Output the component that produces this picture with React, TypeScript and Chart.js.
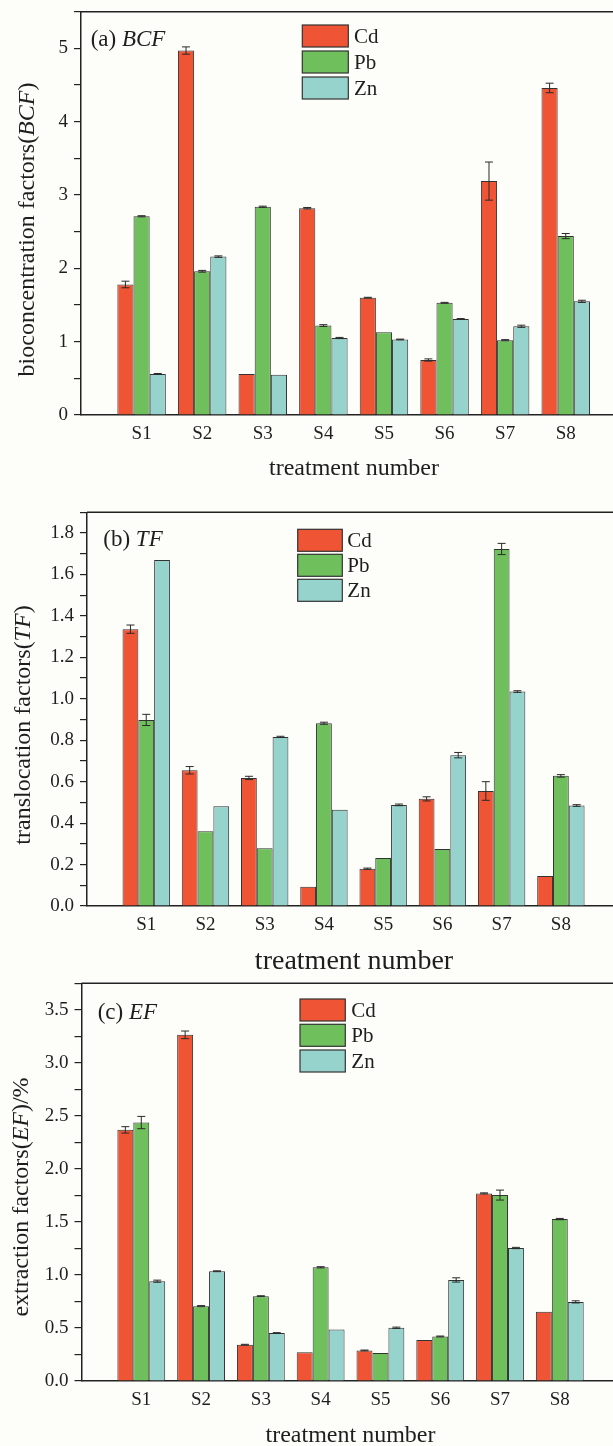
import React, { useEffect, useRef } from 'react';
import { Chart, registerables } from 'chart.js';

Chart.register(...registerables);

const categories = ['S1', 'S2', 'S3', 'S4', 'S5', 'S6', 'S7', 'S8'];
const seriesNames = ['Cd', 'Pb', 'Zn'];
const seriesColors = ['#ef5435', '#6fbf5d', '#96d3cd'];

// (a) BCF
const bcfCd = [1.78, 4.97, 0.56, 2.82, 1.6, 0.75, 3.19, 4.46];
const bcfPb = [2.71, 1.96, 2.84, 1.22, 1.13, 1.53, 1.02, 2.44];
const bcfZn = [0.56, 2.16, 0.55, 1.05, 1.03, 1.31, 1.21, 1.55];
const bcfCdErr = [0.045, 0.05, 0, 0.01, 0.005, 0.015, 0.26, 0.065];
const bcfPbErr = [0.008, 0.012, 0.008, 0.012, 0, 0.006, 0.008, 0.035];
const bcfZnErr = [0.006, 0.01, 0, 0.008, 0.005, 0.005, 0.015, 0.015];
const bcfTickLabels = ['0', '1', '2', '3', '4', '5'];

// (b) TF
const tfCd = [1.336, 0.655, 0.618, 0.093, 0.18, 0.517, 0.555, 0.145];
const tfPb = [0.898, 0.361, 0.279, 0.882, 0.232, 0.275, 1.723, 0.628];
const tfZn = [1.67, 0.481, 0.816, 0.465, 0.488, 0.728, 1.035, 0.485];
const tfCdErr = [0.02, 0.018, 0.008, 0, 0.003, 0.01, 0.045, 0];
const tfPbErr = [0.027, 0, 0, 0.005, 0, 0, 0.027, 0.006];
const tfZnErr = [0, 0, 0.003, 0, 0.004, 0.013, 0.004, 0.004];
const tfTickLabels = ['0.0', '0.2', '0.4', '0.6', '0.8', '1.0', '1.2', '1.4', '1.6', '1.8'];

// (c) EF
const efCd = [2.368, 3.264, 0.342, 0.27, 0.288, 0.386, 1.769, 0.652];
const efPb = [2.437, 0.706, 0.8, 1.072, 0.263, 0.42, 1.753, 1.527];
const efZn = [0.941, 1.035, 0.452, 0.486, 0.502, 0.953, 1.254, 0.746];
const efCdErr = [0.03, 0.036, 0.004, 0, 0.004, 0, 0.005, 0];
const efPbErr = [0.058, 0.005, 0.004, 0.006, 0, 0.004, 0.047, 0.006];
const efZnErr = [0.01, 0.004, 0.004, 0, 0.006, 0.02, 0.006, 0.01];
const efTickLabels = ['0.0', '0.5', '1.0', '1.5', '2.0', '2.5', '3.0', '3.5'];

const FONT = '"Liberation Serif", "Times New Roman", serif';
const INK = '#1e1e1e';

type Part = { t: string; i?: boolean };

const panels = [
  {
    top: 0, height: 485,
    area: { left: 81, top: 11.7, bottom: 415 },
    xMax: 8.78, yMax: 5.5, step: 0.5, tickLabels: bcfTickLabels,
    values: [bcfCd, bcfPb, bcfZn], errors: [bcfCdErr, bcfPbErr, bcfZnErr],
    label: [{ t: '(a) ' }, { t: 'BCF', i: true }] as Part[], labelPos: { x: 90.7, y: 40 }, labelSize: 23,
    yTitle: [{ t: 'bioconcentration factors(' }, { t: 'BCF', i: true }, { t: ')' }] as Part[], yTitlePos: { x: 28, y: 229.5 }, yTitleSize: 24,
    xTitlePos: { x: 354, y: 469 }, xTitleSize: 24,
    legend: { x: 302.3, w: 46, tops: [25, 51, 77], h: 22, textX: 354, size: 21 },
  },
  {
    top: 485, height: 490,
    area: { left: 87, top: 27.3, bottom: 421 },
    xMax: 8.88, yMax: 1.9, step: 0.1, tickLabels: tfTickLabels,
    values: [tfCd, tfPb, tfZn], errors: [tfCdErr, tfPbErr, tfZnErr],
    label: [{ t: '(b) ' }, { t: 'TF', i: true }] as Part[], labelPos: { x: 103.3, y: 55 }, labelSize: 23,
    yTitle: [{ t: 'translocation factors(' }, { t: 'TF', i: true }, { t: ')' }] as Part[], yTitlePos: { x: 24, y: 240 }, yTitleSize: 24,
    xTitlePos: { x: 354, y: 477 }, xTitleSize: 28,
    legend: { x: 297.7, w: 44.6, tops: [44.3, 69.3, 94.3], h: 22, textX: 347.3, size: 21 },
  },
  {
    top: 975, height: 471,
    area: { left: 81.5, top: 8.3, bottom: 406 },
    xMax: 8.89, yMax: 3.75, step: 0.25, tickLabels: efTickLabels,
    values: [efCd, efPb, efZn], errors: [efCdErr, efPbErr, efZnErr],
    label: [{ t: '(c) ' }, { t: 'EF', i: true }] as Part[], labelPos: { x: 97.7, y: 37.5 }, labelSize: 23,
    yTitle: [{ t: 'extraction factors(' }, { t: 'EF', i: true }, { t: ')/%' }] as Part[], yTitlePos: { x: 22, y: 222 }, yTitleSize: 24,
    xTitlePos: { x: 350.5, y: 461 }, xTitleSize: 24,
    legend: { x: 300, w: 45.3, tops: [24, 49.3, 75], h: 22, textX: 351.3, size: 21 },
  },
];

function drawMixed(ctx: CanvasRenderingContext2D, parts: Part[], x: number, y: number, size: number, align: 'left' | 'center') {
  const fontOf = (it?: boolean) => `${it ? 'italic ' : ''}${size}px ${FONT}`;
  let total = 0;
  const widths = parts.map((pt) => {
    ctx.font = fontOf(pt.i);
    const w = ctx.measureText(pt.t).width;
    total += w;
    return w;
  });
  let cx = align === 'center' ? x - total / 2 : x;
  ctx.textAlign = 'left';
  ctx.textBaseline = 'middle';
  ctx.fillStyle = INK;
  parts.forEach((pt, k) => {
    ctx.font = fontOf(pt.i);
    ctx.fillText(pt.t, cx, y);
    cx += widths[k];
  });
}

function Panel({ p }: { p: any }) {
  const ref = useRef<HTMLCanvasElement | null>(null);
  useEffect(() => {
    const decor = {
      id: 'decor',
      afterDatasetsDraw(chart: any) {
        const ctx = chart.ctx;
        const ys = chart.scales.y;
        ctx.save();
        ctx.strokeStyle = '#2a2a2a';
        ctx.lineWidth = 1;
        p.errors.forEach((errs: number[], di: number) => {
          const meta = chart.getDatasetMeta(di);
          meta.data.forEach((el: any, j: number) => {
            const e = errs[j];
            if (!e) return;
            const v = chart.data.datasets[di].data[j].y;
            const y1 = ys.getPixelForValue(v + e);
            const y2 = ys.getPixelForValue(v - e);
            const x = el.x;
            ctx.beginPath();
            ctx.moveTo(x, y1); ctx.lineTo(x, y2);
            ctx.moveTo(x - 4, y1); ctx.lineTo(x + 4, y1);
            ctx.moveTo(x - 4, y2); ctx.lineTo(x + 4, y2);
            ctx.stroke();
          });
        });
        ctx.restore();
      },
      afterDraw(chart: any) {
        const ctx = chart.ctx;
        const a = chart.chartArea;
        ctx.save();
        // top frame line
        ctx.strokeStyle = '#222';
        ctx.lineWidth = 1.5;
        ctx.beginPath();
        ctx.moveTo(a.left, a.top);
        ctx.lineTo(a.right, a.top);
        ctx.stroke();
        // legend
        const lg = p.legend;
        chart.data.datasets.forEach((ds: any, i: number) => {
          ctx.fillStyle = ds.backgroundColor;
          ctx.fillRect(lg.x, lg.tops[i], lg.w, lg.h);
          ctx.strokeStyle = '#333';
          ctx.lineWidth = 1.2;
          ctx.strokeRect(lg.x, lg.tops[i], lg.w, lg.h);
          ctx.fillStyle = INK;
          ctx.font = `${lg.size}px ${FONT}`;
          ctx.textAlign = 'left';
          ctx.textBaseline = 'middle';
          ctx.fillText(ds.label, lg.textX, lg.tops[i] + lg.h / 2 + 1);
        });
        // panel label
        drawMixed(ctx, p.label, p.labelPos.x, p.labelPos.y, p.labelSize, 'left');
        // x title
        drawMixed(ctx, [{ t: 'treatment number' }], p.xTitlePos.x, p.xTitlePos.y, p.xTitleSize, 'center');
        // y title
        ctx.save();
        ctx.translate(p.yTitlePos.x, p.yTitlePos.y);
        ctx.rotate(-Math.PI / 2);
        drawMixed(ctx, p.yTitle, 0, 0, p.yTitleSize, 'center');
        ctx.restore();
        ctx.restore();
      },
    };

    const H = p.height;
    const chart = new Chart(ref.current as HTMLCanvasElement, {
      type: 'bar',
      data: {
        datasets: seriesNames.map((name, di) => ({
          label: name,
          data: categories.map((_, j) => ({ x: j + 1, y: p.values[di][j] })),
          backgroundColor: seriesColors[di],
          borderColor: '#333',
          borderWidth: 1,
          categoryPercentage: 0.8,
          barPercentage: 1,
        })),
      },
      options: {
        animation: false,
        responsive: false,
        maintainAspectRatio: false,
        layout: { padding: { top: p.area.top, left: 0, right: 0, bottom: 0 } },
        plugins: { legend: { display: false }, tooltip: { enabled: false }, title: { display: false } },
        scales: {
          x: {
            type: 'linear',
            min: 0,
            max: p.xMax,
            offset: false,
            grid: { display: false, drawTicks: false },
            border: { display: true, color: '#222', width: 1.5 },
            ticks: {
              stepSize: 1,
              autoSkip: false,
              includeBounds: false,
              padding: 8,
              color: INK,
              font: { family: FONT, size: 19 },
              callback: (v: any) => {
                const r = Math.round(v);
                if (Math.abs(v - r) > 1e-6) return '';
                return categories[r - 1] ?? '';
              },
            },
            afterFit: (s: any) => {
              s.height = H - p.area.bottom;
              s.paddingLeft = 0; s.paddingRight = 0; s.paddingTop = 0; s.paddingBottom = 0;
            },
          },
          y: {
            type: 'linear',
            min: 0,
            max: p.yMax,
            grid: { display: true, drawOnChartArea: false, drawTicks: true, tickLength: 7, color: '#222', lineWidth: 1.2 },
            border: { display: true, color: '#222', width: 1.5 },
            ticks: {
              stepSize: p.step,
              autoSkip: false,
              includeBounds: false,
              padding: 6,
              color: INK,
              font: { family: FONT, size: 19 },
              callback: (v: any) => {
                const lab = p.tickLabels.find((l: string) => Math.abs(parseFloat(l) - v) < 1e-6);
                return lab ?? '';
              },
            },
            afterFit: (s: any) => {
              s.width = p.area.left;
              s.paddingLeft = 0; s.paddingRight = 0; s.paddingTop = 0; s.paddingBottom = 0;
            },
          },
        },
      } as any,
      plugins: [decor],
    });
    return () => chart.destroy();
  }, [p]);
  return (
    <canvas
      ref={ref}
      width={613}
      height={p.height}
      style={{ position: 'absolute', left: 0, top: p.top, width: 613, height: p.height }}
    />
  );
}

export default function App() {
  return (
    <div style={{ position: 'absolute', left: 0, top: 0, width: 613, height: 1446, background: '#fdfdf9', overflow: 'hidden' }}>
      {panels.map((p, k) => (
        <Panel key={k} p={p} />
      ))}
    </div>
  );
}
